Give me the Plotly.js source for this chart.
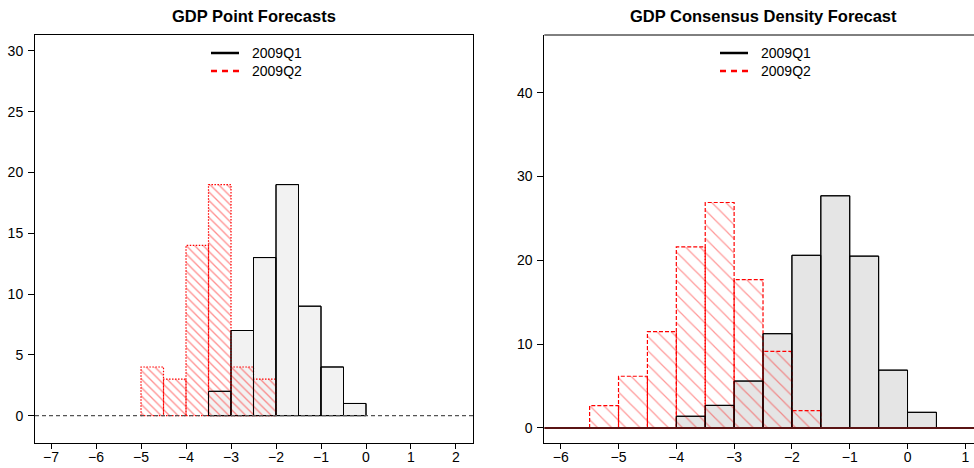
<!DOCTYPE html>
<html>
<head>
<meta charset="utf-8">
<script src="https://cdn.plot.ly/plotly-3.0.1.min.js"></script>
<style>html,body{margin:0;padding:0;overflow:hidden;background:#fff}</style>
</head>
<body>
<div id="chart" style="width:974px;height:468px"></div>
<script>
// ---- Data ----
var binWidth = 0.5;
// Left panel: GDP point forecasts (counts), bins given by left edge
var pointQ1Left = [-3.5, -3.0, -2.5, -2.0, -1.5, -1.0, -0.5];
var pointQ1Count = [2, 7, 13, 19, 9, 4, 1];
var pointQ2Left = [-5.0, -4.5, -4.0, -3.5, -3.0, -2.5];
var pointQ2Count = [4, 3, 14, 19, 4, 3];
// Right panel: consensus density forecast (probability, %)
var densQ1Left = [-4.0, -3.5, -3.0, -2.5, -2.0, -1.5, -1.0, -0.5, 0.0];
var densQ1Prob = [1.4, 2.7, 5.6, 11.25, 20.6, 27.7, 20.5, 6.9, 1.87];
var densQ2Left = [-5.5, -5.0, -4.5, -4.0, -3.5, -3.0, -2.5, -2.0];
var densQ2Prob = [2.66, 6.17, 11.5, 21.6, 26.9, 17.7, 9.15, 2.07];
var seriesNames = ["2009Q1", "2009Q2"];
var titles = ["GDP Point Forecasts", "GDP Consensus Density Forecast"];
var leftXTicks = [-7, -6, -5, -4, -3, -2, -1, 0, 1, 2];
var leftYTicks = [0, 5, 10, 15, 20, 25, 30];
var rightXTicks = [-6, -5, -4, -3, -2, -1, 0, 1];
var rightYTicks = [0, 10, 20, 30, 40];

function centers(lefts) { return lefts.map(function (l) { return l + binWidth / 2; }); }
function outline(lefts, vals) {
  var xs = [], ys = [];
  lefts.forEach(function (l, i) {
    var r = l + binWidth;
    xs.push(l, l, r, r, l, null);
    ys.push(0, vals[i], vals[i], 0, 0, null);
  });
  return {x: xs, y: ys};
}

var W = 974, H = 468;
function px(x) { return x / W; }
function py(y) { return (H - y) / H; }

var traces = [];
// Left panel
traces.push({type: "bar", x: centers(pointQ1Left), y: pointQ1Count, width: binWidth,
  xaxis: "x", yaxis: "y", marker: {color: "#f2f2f2", line: {color: "#000", width: 1}},
  showlegend: false, hoverinfo: "skip"});
traces.push({type: "bar", x: centers(pointQ2Left), y: pointQ2Count, width: binWidth,
  xaxis: "x", yaxis: "y",
  marker: {color: "rgba(0,0,0,0)", line: {width: 0},
    pattern: {shape: "\\", fgcolor: "#ff2020", size: 6, solidity: 0.22, fillmode: "overlay"}},
  showlegend: false, hoverinfo: "skip"});
var o2 = outline(pointQ2Left, pointQ2Count);
traces.push({type: "scatter", mode: "lines", x: o2.x, y: o2.y, xaxis: "x", yaxis: "y",
  line: {color: "red", width: 1.2, dash: "1.5px,1.5px"}, showlegend: false, hoverinfo: "skip"});
var o1 = outline(pointQ1Left, pointQ1Count);
traces.push({type: "scatter", mode: "lines", x: o1.x, y: o1.y, xaxis: "x", yaxis: "y",
  line: {color: "#000", width: 1}, showlegend: false, hoverinfo: "skip"});

// Right panel
traces.push({type: "bar", x: centers(densQ1Left), y: densQ1Prob, width: binWidth,
  xaxis: "x2", yaxis: "y2", marker: {color: "#e5e5e5", line: {color: "#000", width: 1}},
  showlegend: false, hoverinfo: "skip"});
traces.push({type: "bar", x: centers(densQ2Left), y: densQ2Prob, width: binWidth,
  xaxis: "x2", yaxis: "y2",
  marker: {color: "rgba(0,0,0,0)", line: {width: 0},
    pattern: {shape: "\\", fgcolor: "rgba(255,0,0,0.8)", size: 10, solidity: 0.12, fillmode: "overlay"}},
  showlegend: false, hoverinfo: "skip"});
var o4 = outline(densQ2Left, densQ2Prob);
traces.push({type: "scatter", mode: "lines", x: o4.x, y: o4.y, xaxis: "x2", yaxis: "y2",
  line: {color: "red", width: 1.2, dash: "4px,2px"}, showlegend: false, hoverinfo: "skip"});
var o3 = outline(densQ1Left, densQ1Prob);
traces.push({type: "scatter", mode: "lines", x: o3.x, y: o3.y, xaxis: "x2", yaxis: "y2",
  line: {color: "#000", width: 1}, showlegend: false, hoverinfo: "skip"});

var font = "Liberation Sans, Arial, sans-serif";
var axisCommon = {showgrid: false, zeroline: false, showline: true, linecolor: "#000", linewidth: 1,
  ticks: "outside", ticklen: 6, tickwidth: 1, tickcolor: "#000", automargin: false,
  tickfont: {family: font, size: 14, color: "#000"}, fixedrange: true};
function ax(extra) { return Object.assign({}, axisCommon, extra); }

var ydom = [py(443), py(35)];
var layout = {
  width: W, height: H, margin: {l: 0, r: 0, t: 0, b: 0},
  paper_bgcolor: "#fff", plot_bgcolor: "#fff", barmode: "overlay", showlegend: false,
  xaxis: ax({domain: [px(35), px(473)], range: [-7.356, 2.378], tickvals: leftXTicks, mirror: true, anchor: "y",
    ticklen: 5, ticklabelstandoff: -4}),
  yaxis: ax({domain: ydom, range: [-2.25, 31.3], tickvals: leftYTicks, mirror: true, anchor: "x", ticklabelstandoff: 2}),
  xaxis2: ax({domain: [px(544.3), 1], range: [-6.284, 1.15], tickvals: rightXTicks, anchor: "y2",
    ticklen: 5, ticklabelstandoff: -4}),
  yaxis2: ax({domain: ydom, range: [-1.79, 46.88], tickvals: rightYTicks, anchor: "x2", ticklabelstandoff: 2}),
  shapes: [
    {type: "line", xref: "x domain", yref: "y", x0: 0, x1: 1, y0: 0, y1: 0,
      line: {color: "#555", width: 1.2, dash: "4px,3px"}},
    {type: "line", xref: "x2 domain", yref: "y2", x0: 0, x1: 1, y0: 0, y1: 0,
      line: {color: "#5a1414", width: 2}},
    {type: "line", xref: "x2 domain", yref: "y2 domain", x0: 0, x1: 1, y0: 1, y1: 1,
      line: {color: "#000", width: 1}},
    // legends
    {type: "line", xref: "paper", yref: "paper", x0: px(211), x1: px(239), y0: py(53), y1: py(53),
      line: {color: "#000", width: 2.5}},
    {type: "line", xref: "paper", yref: "paper", x0: px(211), x1: px(239), y0: py(71), y1: py(71),
      line: {color: "red", width: 2.5, dash: "6px,5px"}},
    {type: "line", xref: "paper", yref: "paper", x0: px(720), x1: px(748), y0: py(53), y1: py(53),
      line: {color: "#000", width: 2.5}},
    {type: "line", xref: "paper", yref: "paper", x0: px(720), x1: px(748), y0: py(71), y1: py(71),
      line: {color: "red", width: 2.5, dash: "6px,5px"}}
  ],
  annotations: [
    {text: "<b>" + titles[0] + "</b>", xref: "paper", yref: "paper", x: px(254), y: py(16),
      xanchor: "center", yanchor: "middle", showarrow: false, font: {family: font, size: 16.5, color: "#000"}},
    {text: "<b>" + titles[1] + "</b>", xref: "paper", yref: "paper", x: px(763), y: py(16),
      xanchor: "center", yanchor: "middle", showarrow: false, font: {family: font, size: 16.5, color: "#000"}},
    {text: seriesNames[0], xref: "paper", yref: "paper", x: px(250), y: py(53), xanchor: "left", yanchor: "middle",
      showarrow: false, font: {family: font, size: 14, color: "#000"}},
    {text: seriesNames[1], xref: "paper", yref: "paper", x: px(250), y: py(71), xanchor: "left", yanchor: "middle",
      showarrow: false, font: {family: font, size: 14, color: "#000"}},
    {text: seriesNames[0], xref: "paper", yref: "paper", x: px(759), y: py(53), xanchor: "left", yanchor: "middle",
      showarrow: false, font: {family: font, size: 14, color: "#000"}},
    {text: seriesNames[1], xref: "paper", yref: "paper", x: px(759), y: py(71), xanchor: "left", yanchor: "middle",
      showarrow: false, font: {family: font, size: 14, color: "#000"}}
  ]
};

Plotly.newPlot("chart", traces, layout, {staticPlot: true, displayModeBar: false});
</script>
</body>
</html>
